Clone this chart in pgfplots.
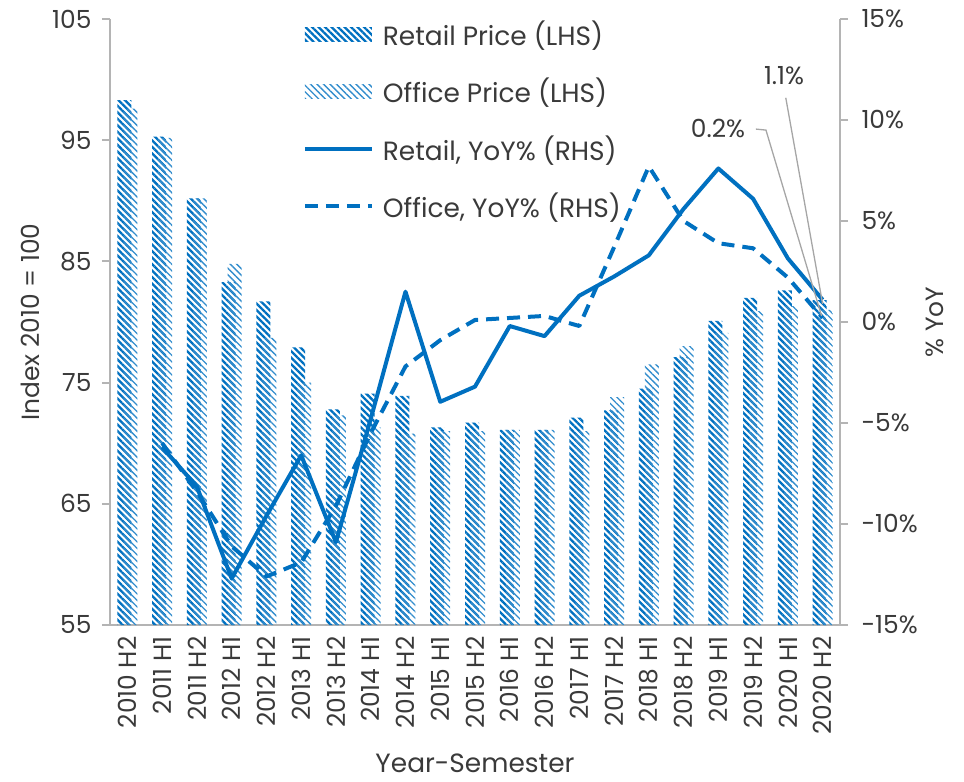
\documentclass[border=0pt]{standalone}
\usepackage{pgfplots}
\pgfplotsset{compat=1.18}
\usepackage{fontspec}
\setmainfont{Poppins}
\usetikzlibrary{patterns.meta}
\definecolor{xblue}{HTML}{0070C0}
\definecolor{axgray}{HTML}{B4B4B4}
\definecolor{txt}{HTML}{3A3A3A}
\newcommand{\F}{\fontsize{25}{29}\selectfont}
\newcommand{\FL}{\fontsize{26.5}{30}\selectfont}
\tikzset{
  retailpat/.style={pattern={Lines[angle=-45,distance=4.6bp,line width=2.3bp]}, pattern color=xblue},
  officepat/.style={pattern={Lines[angle=-45,distance=4.6bp,line width=1.3bp]}, pattern color=xblue!80},
  spacer/.style={draw=none, fill=none, pattern=none},
}
\pgfplotstableread{
x retail office
0  98.3 97.6
1  95.3 95.2
2  90.2 90.2
3  83.3 84.8
4  81.7 78.7
5  77.9 75.0
6  72.8 72.3
7  74.1 71.3
8  73.9 70.8
9  71.3 71.0
10 71.7 71.0
11 71.1 71.1
12 71.1 71.1
13 72.1 71.0
14 72.7 73.8
15 74.5 76.5
16 77.1 78.0
17 80.1 79.1
18 82.0 80.9
19 82.6 81.3
20 81.8 81.0
}\prices
\pgfplotstableread{
x ryoy oyoy
1  -6.2  -6.0
2  -8.15 -8.4
3  -12.7 -11.1
4  -9.6  -12.6
5  -6.6  -11.9
6  -10.9 -9.1
7  -4.8  -5.5
8  1.5   -2.2
9  -3.95 -0.9
10 -3.2  0.1
11 -0.2  0.2
12 -0.7  0.3
13 1.3   -0.2
14 2.25  3.7
15 3.3   7.7
16 5.6   5.0
17 7.6   3.9
18 6.1   3.65
19 3.15  2.2
20 1.1   0.2
}\yoy
\begin{document}
\begin{tikzpicture}
\useasboundingbox (-110bp,-157bp) rectangle (854bp,625bp);
\begin{axis}[
  scale only axis, width=730bp, height=606bp,
  xmin=-0.5, xmax=20.5, ymin=55, ymax=105,
  axis x line=bottom, axis y line=left,
  axis line style={-, draw=axgray, line width=2bp},
  xtick={0,...,20},
  xticklabels={2010 H2,2011 H1,2011 H2,2012 H1,2012 H2,2013 H1,2013 H2,2014 H1,2014 H2,2015 H1,2015 H2,2016 H1,2016 H2,2017 H1,2017 H2,2018 H1,2018 H2,2019 H1,2019 H2,2020 H1,2020 H2},
  xtick style={draw=none},
  xticklabel style={rotate=90, anchor=east, font=\F, text=txt},
  ytick={55,65,...,105},
  yticklabel style={font=\F, text=txt, xshift=-7bp},
  /pgf/number format/assume math mode=true,
  tick align=outside, major tick length=8bp,
  ytick style={draw=axgray, line width=2bp},
  xlabel={Year-Semester},
  xlabel style={font=\FL, text=txt, at={(axis description cs:0.5,-0.229)}, anchor=center},
  ylabel={Index 2010 = 100},
  ylabel style={font=\F, text=txt, at={(axis description cs:-0.1096,0.5)}, anchor=center},
]
\addplot[ybar, bar width=14bp, bar shift=-3bp, draw=none, retailpat] table[x=x,y=retail] {\prices};
\addplot[ybar, bar width=14bp, bar shift=3bp, draw=none, officepat] table[x=x,y=office] {\prices};
\end{axis}
\begin{axis}[
  scale only axis, width=730bp, height=606bp,
  xmin=-0.5, xmax=20.5, ymin=-15, ymax=15,
  axis x line=none, axis y line=right,
  axis line style={-, draw=axgray, line width=2bp},
  ytick={-15,-10,...,15},
  yticklabels={-15\%,-10\%,-5\%,0\%,5\%,10\%,15\%},
  yticklabel style={font=\F, text=txt, xshift=10bp},
  tick align=outside, major tick length=8bp,
  ytick style={draw=axgray, line width=2bp},
  ylabel={\% YoY},
  ylabel style={font=\F, text=txt, at={(axis description cs:1.130,0.5)}, anchor=center},
  clip=false,
  legend style={at={(axis description cs:0.264,1.0)}, anchor=north west, draw=none, fill=none, font=\FL, text=txt, row sep=27bp, inner sep=0pt},
  legend cell align=left,
]
\addlegendimage{legend image code/.code={\path[draw=none, retailpat] (0bp,-7bp) rectangle (67bp,7bp); \path[spacer] (0bp,0bp) rectangle (76bp,0bp);}}
\addlegendentry{Retail Price (LHS)}
\addlegendimage{legend image code/.code={\path[draw=none, officepat] (0bp,-7bp) rectangle (67bp,7bp); \path[spacer] (0bp,0bp) rectangle (76bp,0bp);}}
\addlegendentry{Office Price (LHS)}
\addplot[xblue, line width=4bp, line join=round, legend image code/.code={\draw[xblue, line width=4bp] (0bp,0bp) -- (67bp,0bp); \path[spacer] (0bp,0bp) rectangle (76bp,0bp);}] table[x=x,y=ryoy] {\yoy};
\addlegendentry{Retail, YoY\% (RHS)}
\addplot[xblue, line width=4bp, line join=round, dash pattern=on 13bp off 8bp, legend image code/.code={\draw[xblue, line width=4bp, dash pattern=on 13bp off 8bp] (0bp,0bp) -- (67bp,0bp); \path[spacer] (0bp,0bp) rectangle (76bp,0bp);}] table[x=x,y=oyoy] {\yoy};
\addlegendentry{Office, YoY\% (RHS)}
\draw[gray!70, line width=1.3bp] (axis cs:18.94,11.1) -- (axis cs:20,0.9);
\node[font=\F, text=txt] at (axis cs:18.89,12.2) {1.1\%};
\draw[gray!70, line width=1.3bp] (axis cs:18.08,9.55) -- (axis cs:18.37,9.5) -- (axis cs:19.97,0.3);
\node[font=\F, text=txt] at (axis cs:16.99,9.6) {0.2\%};
\end{axis}
\end{tikzpicture}
\end{document}
